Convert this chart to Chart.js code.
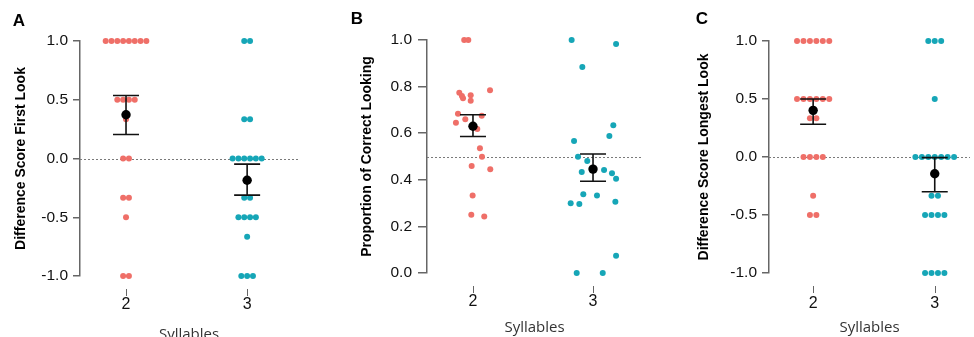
<!DOCTYPE html>
<html><head><meta charset="utf-8">
<script src="https://cdn.jsdelivr.net/npm/chart.js@4.4.1/dist/chart.umd.min.js"></script>
<style>
html,body{margin:0;padding:0;background:#fff;width:974px;height:337px;overflow:hidden;position:relative;}
.p{position:absolute;top:0;height:337px;}
.lbl{position:absolute;font:bold 17px "Liberation Sans",Arial,sans-serif;color:#000;transform:translate(-50%,-50%);z-index:2;}
</style></head><body>
<div class="p" style="left:0;width:330px"><canvas id="cA" width="330" height="337"></canvas></div>
<div class="p" style="left:330px;width:330px"><canvas id="cB" width="330" height="337"></canvas></div>
<div class="p" style="left:660px;width:314px"><canvas id="cC" width="314" height="337"></canvas></div>
<div class="lbl" style="left:19px;top:21px">A</div>
<div class="lbl" style="left:357px;top:19px">B</div>
<div class="lbl" style="left:702px;top:19px">C</div>
<script>
// ---------- data ----------
const categories = [2, 3];
const xAxisTitle = 'Syllables';

// Panel A: Difference Score First Look
const firstLook2 = [1,1,1,1,1,1,1,1,0.5,0.5,0.5,0.5,0.333,0,0,-0.333,-0.333,-0.5,-1,-1];
const firstLook3 = [1,1,0.333,0.333,0,0,0,0,0,0,-0.333,-0.333,-0.5,-0.5,-0.5,-0.5,-0.667,-1,-1,-1];
const firstLookMean  = [0.372, -0.185];
const firstLookUpper = [0.536, -0.048];
const firstLookLower = [0.204, -0.312];

// Panel B: Proportion of Correct Looking
const propCorrect2 = [1.0,1.0,0.774,0.76,0.75,0.763,0.739,0.784,0.684,0.645,0.66,0.675,0.618,0.535,0.499,0.459,0.445,0.333,0.25,0.242];
const propJitter2  = [-0.073,-0.039,-0.114,-0.092,-0.083,-0.019,-0.019,0.142,-0.125,-0.142,-0.064,0.073,0.036,0.058,0.075,-0.011,0.144,-0.003,-0.014,0.094];
const propCorrect3 = [1.0,0.983,0.884,0.634,0.588,0.567,0.499,0.481,0.433,0.442,0.428,0.405,0.338,0.333,0.299,0.296,0.306,0.074,0.0,0.0];
const propJitter3  = [-0.178,0.192,-0.089,0.169,0.136,-0.158,-0.125,-0.048,-0.094,0.092,0.158,0.192,-0.081,0.033,-0.186,-0.114,0.186,0.192,-0.136,0.081];
const propMean  = [0.630, 0.446];
const propUpper = [0.679, 0.511];
const propLower = [0.586, 0.394];

// Panel C: Difference Score Longest Look
const longestLook2 = [1,1,1,1,1,1,0.5,0.5,0.5,0.5,0.5,0.5,0.333,0.333,0,0,0,0,-0.333,-0.5,-0.5];
const longestLook3 = [1,1,1,0.5,0,0,0,0,0,0,0,-0.333,-0.333,-0.5,-0.5,-0.5,-0.5,-1,-1,-1,-1];
const longestMean  = [0.402, -0.144];
const longestUpper = [0.500, -0.005];
const longestLower = [0.282, -0.299];

const RED = '#EF6F68';
const BLUE = '#16A6B7';
const FONT = '"Liberation Sans", Arial, sans-serif';

// beeswarm: spread equal values side by side around category
function swarm(values, cat, spacing) {
  const counts = {}, seen = {};
  values.forEach(v => { counts[v] = (counts[v] || 0) + 1; });
  return values.map(v => {
    const i = seen[v] || 0; seen[v] = i + 1;
    return { x: cat + (i - (counts[v] - 1) / 2) * spacing, y: v };
  });
}
function jittered(values, jitter, cat) {
  return values.map((v, i) => ({ x: cat + jitter[i], y: v }));
}

function deco(cfg) {
  return {
    id: 'deco',
    beforeDatasetsDraw(chart) {
      const { ctx, chartArea, scales: { y } } = chart;
      const py = Math.round(y.getPixelForValue(cfg.ref)) + 0.5;
      ctx.save();
      ctx.strokeStyle = '#7a7a7a'; ctx.lineWidth = 1; ctx.setLineDash([2, 2]);
      ctx.beginPath(); ctx.moveTo(chartArea.left, py); ctx.lineTo(chartArea.right, py); ctx.stroke();
      ctx.restore();
    },
    afterDatasetsDraw(chart) {
      const { ctx, scales: { x, y } } = chart;
      ctx.save();
      ctx.strokeStyle = '#111'; ctx.lineWidth = 1.6;
      categories.forEach((c, i) => {
        const px = x.getPixelForValue(c);
        const t = y.getPixelForValue(cfg.upper[i]);
        const b = y.getPixelForValue(cfg.lower[i]);
        ctx.beginPath();
        ctx.moveTo(px, t); ctx.lineTo(px, b);
        ctx.moveTo(px - 13, t); ctx.lineTo(px + 13, t);
        ctx.moveTo(px - 13, b); ctx.lineTo(px + 13, b);
        ctx.stroke();
      });
      ctx.fillStyle = '#000';
      categories.forEach((c, i) => {
        ctx.beginPath();
        ctx.arc(x.getPixelForValue(c), y.getPixelForValue(cfg.mean[i]), 4.7, 0, Math.PI * 2);
        ctx.fill();
      });
      ctx.restore();
    },
    afterDraw(chart) {
      const { ctx, chartArea, scales: { x } } = chart;
      ctx.save();
      ctx.strokeStyle = '#666'; ctx.lineWidth = 1;
      categories.forEach(c => {
        const px = Math.round(x.getPixelForValue(c)) + 0.5;
        ctx.beginPath(); ctx.moveTo(px, chartArea.bottom + 13); ctx.lineTo(px, chartArea.bottom + 20); ctx.stroke();
      });
      ctx.restore();
    }
  };
}

function makePanel(id, p) {
  new Chart(document.getElementById(id), {
    type: 'scatter',
    data: {
      datasets: [
        { data: p.pts2, backgroundColor: RED, borderWidth: 0, pointRadius: 3, clip: false },
        { data: p.pts3, backgroundColor: BLUE, borderWidth: 0, pointRadius: 3, clip: false }
      ]
    },
    options: {
      responsive: false, animation: false, events: [],
      layout: { padding: { top: p.padTop, right: p.padRight, left: 0, bottom: 0 } },
      plugins: { legend: { display: false }, tooltip: { enabled: false } },
      scales: {
        x: {
          type: 'linear', min: p.xMin, max: p.xMax,
          afterBuildTicks: s => { s.ticks = categories.map(v => ({ value: v })); },
          afterFit: s => { s.height = p.xHeight; },
          border: { display: false },
          grid: { display: false, drawTicks: false },
          ticks: { padding: p.xTickPad, color: '#111', font: { family: FONT, size: 16 }, callback: v => String(v) },
          title: { display: true, text: xAxisTitle, color: '#333', font: { family: '"Open Sans", sans-serif', size: 15 }, padding: { top: 0, bottom: p.xTitlePad } }
        },
        y: {
          min: p.yMin, max: p.yMax,
          afterFit: s => { s.width = p.yWidth; },
          ticks: { stepSize: p.yStep, padding: p.yTickPad, color: '#111', font: { family: FONT, size: 15.5 }, callback: v => Number(v).toFixed(1) },
          border: { display: true, color: '#666', width: 1.5 },
          grid: { drawOnChartArea: false, drawTicks: true, tickLength: p.yTickLen, color: '#666', lineWidth: 1.5 },
          title: { display: true, text: p.yTitle, color: '#000', font: { family: FONT, size: 14, weight: 'bold' }, padding: { top: p.yTitlePad, bottom: 0 } }
        }
      }
    },
    plugins: [deco({ ref: p.ref, mean: p.mean, upper: p.upper, lower: p.lower })]
  });
}

makePanel('cA', {
  pts2: swarm(firstLook2, categories[0], 0.048),
  pts3: swarm(firstLook3, categories[1], 0.048),
  mean: firstLookMean, upper: firstLookUpper, lower: firstLookLower, ref: 0,
  yMin: -1, yMax: 1, yStep: 0.5, xMin: 1.62, xMax: 3.42,
  padTop: 41, padRight: 32, yWidth: 80, xHeight: 61,
  yTitle: 'Difference Score First Look', yTitlePad: 13, yTickPad: 5, yTickLen: 7,
  xTickPad: 19.4, xTitlePad: -7
});
makePanel('cB', {
  pts2: jittered(propCorrect2, propJitter2, categories[0]),
  pts3: jittered(propCorrect3, propJitter3, categories[1]),
  mean: propMean, upper: propUpper, lower: propLower, ref: 0.5,
  yMin: 0, yMax: 1, yStep: 0.2, xMin: 1.617, xMax: 3.408,
  padTop: 40, padRight: 18, yWidth: 97, xHeight: 64,
  yTitle: 'Proportion of Correct Looking', yTitlePad: 29, yTickPad: 6, yTickLen: 9,
  xTickPad: 19.4, xTitlePad: 0
});
makePanel('cC', {
  pts2: swarm(longestLook2, categories[0], 0.053),
  pts3: swarm(longestLook3, categories[1], 0.053),
  mean: longestMean, upper: longestUpper, lower: longestLower, ref: 0,
  yMin: -1, yMax: 1, yStep: 0.5, xMin: 1.637, xMax: 3.29,
  padTop: 41, padRight: 0, yWidth: 109, xHeight: 64,
  yTitle: 'Difference Score Longest Look', yTitlePad: 36, yTickPad: 5, yTickLen: 7,
  xTickPad: 21.4, xTitlePad: 0
});
</script>
</body></html>
